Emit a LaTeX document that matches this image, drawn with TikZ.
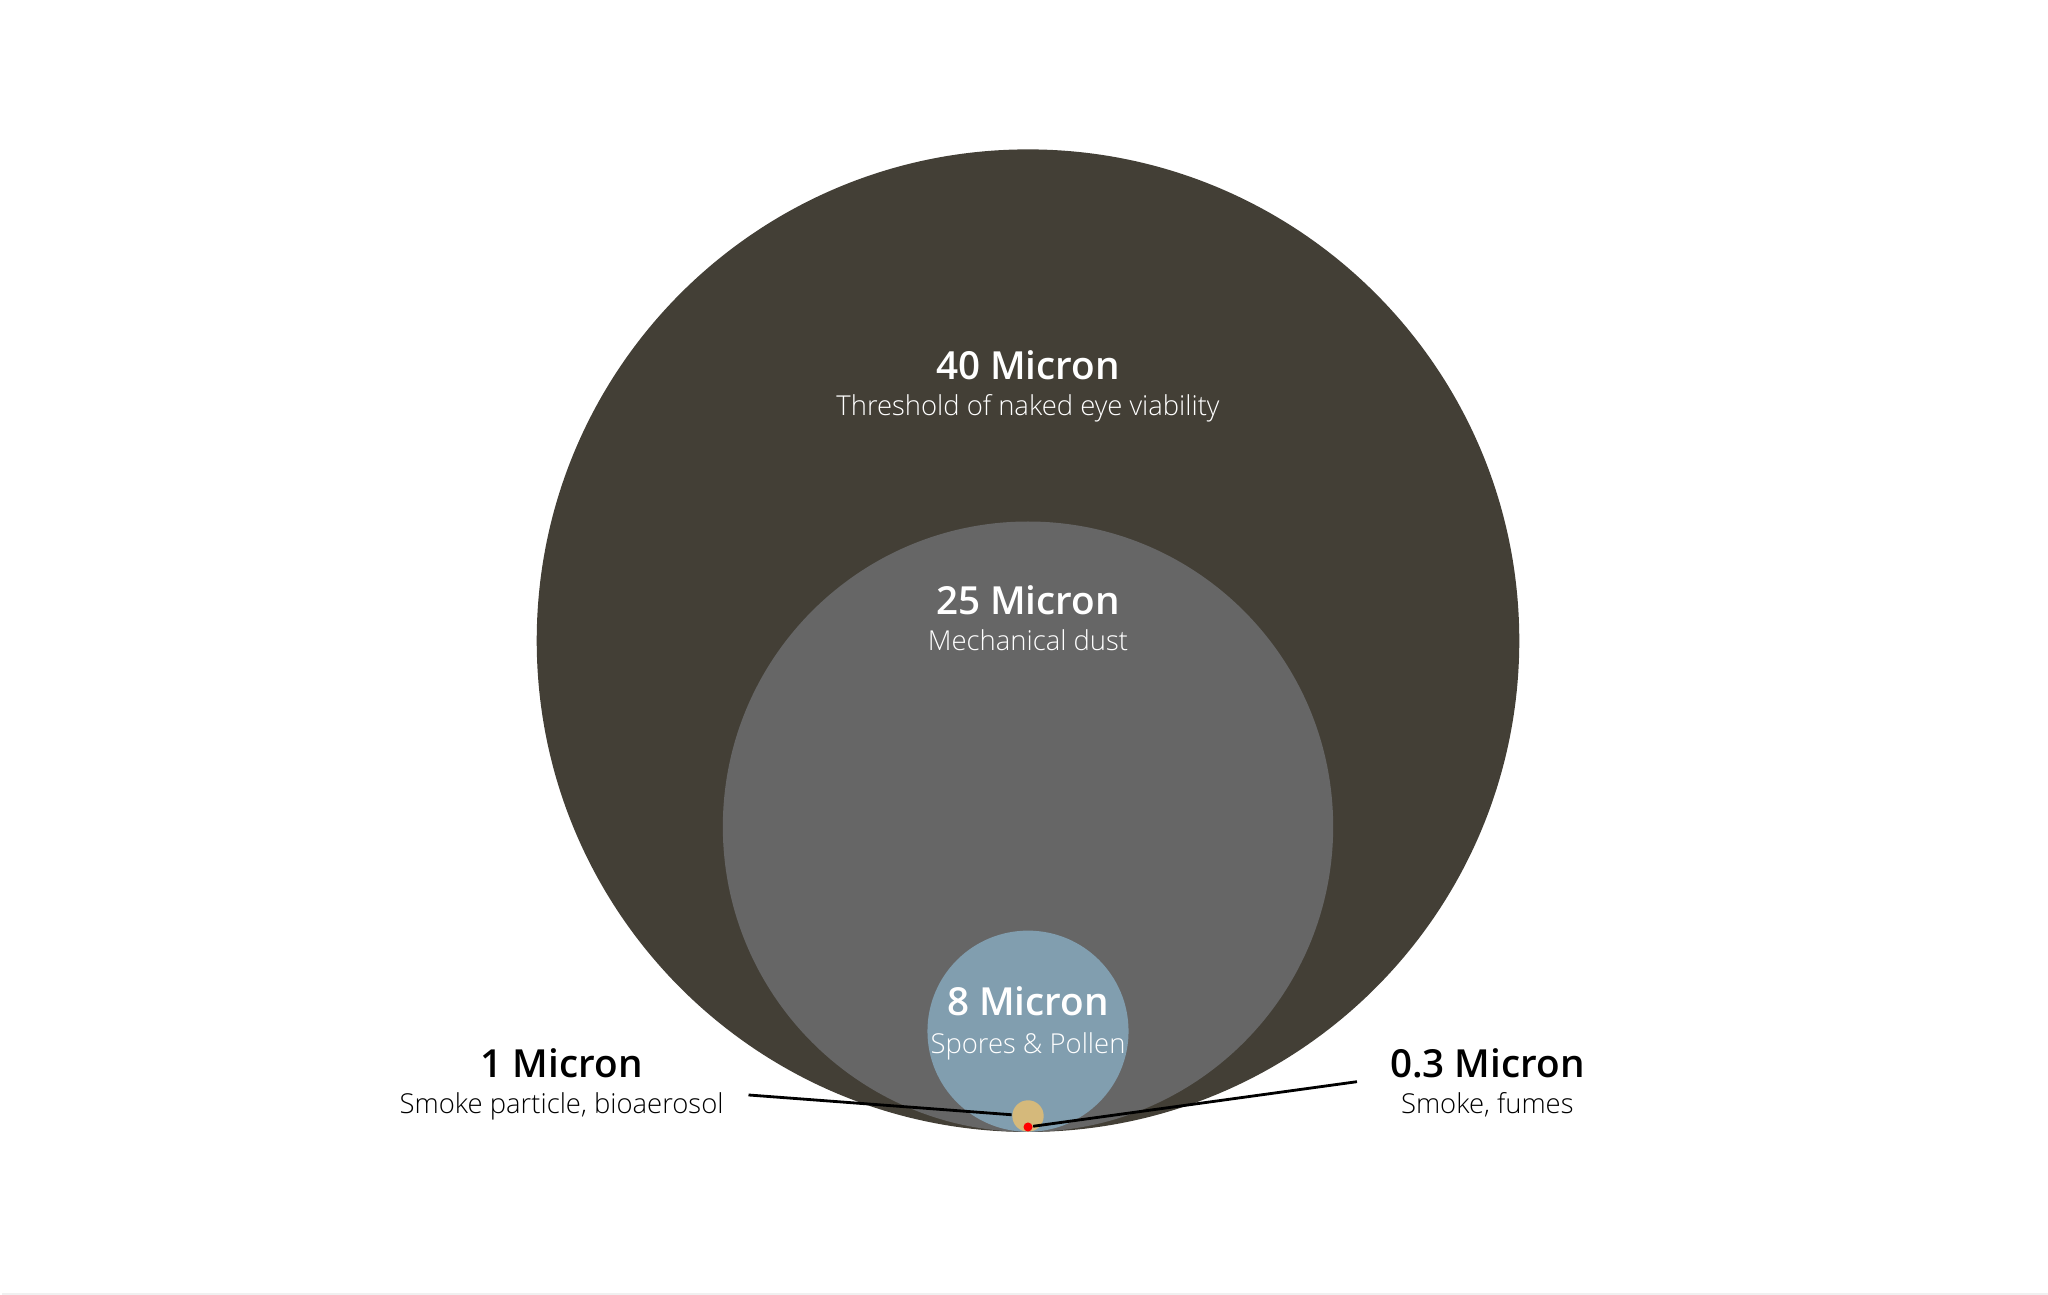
\documentclass[tikz,border=0pt]{standalone}
\usepackage{fontspec}
\setmainfont{Open Sans}
\newfontfamily\lightfont{Open Sans Light}
\newfontfamily\semifont{Open Sans Semibold}
\definecolor{micronforty}{HTML}{433F36}
\definecolor{microntwentyfive}{HTML}{666666}
\definecolor{microneight}{HTML}{819EAF}
\definecolor{micronone}{HTML}{D5B97B}
\begin{document}
\begin{tikzpicture}[x=0.01cm, y=0.01cm,
    particle/.style ={circle, inner sep=0pt, draw=none},
    heading/.style ={anchor=base, inner sep=0pt, font=\semifont\fontsize{11}{13}\selectfont},
    caption/.style ={anchor=base, inner sep=0pt, font=\lightfont\fontsize{7.8}{9}\selectfont},
    leader/.style ={line width=0.8pt, black}]
   \useasboundingbox (0,0) rectangle (2048,1295);
   \fill[black!6] (2,0) rectangle (2048,2);
   % circles, all touching at the bottom
   \node[particle, fill=micronforty, minimum size=9.82cm] (c40) at (1028,654.3) {};
   \node[particle, fill=microntwentyfive, minimum size=6.10cm] (c25) at (1028,468.3) {};
   \node[particle, fill=microneight, minimum size=2.01cm] (c8) at (1028,263.8) {};
   \node[particle, fill=micronone, minimum size=0.314cm] (c1) at (1028,179) {};
   % labels
   \node[heading, text=white] (h40) at (1028,915) {40 Micron};
   \node[caption, text=white] (s40) at (1028,879.3) {Threshold of naked eye viability};
   \node[heading, text=white] (h25) at (1028,680.7) {25 Micron};
   \node[caption, text=white] (s25) at (1028,644.3) {Mechanical dust};
   \node[heading, text=white] (h8) at (1028,279) {8 Micron};
   \node[caption, text=white] (s8) at (1028,241.7) {Spores \& Pollen};
   \node[heading] (h1) at (561.6,217.7) {1 Micron};
   \node[caption] (s1) at (561.6,181.7) {Smoke particle, bioaerosol};
   \node[heading] (h03) at (1487.3,217.7) {0.3 Micron};
   \node[caption] (s03) at (1487.3,181.3) {Smoke, fumes};
   % leader lines
   \coordinate (p1) at (748.5,200);
   \coordinate (p03) at (1357,213.3);
   \draw[leader] (p1) -- (c1);
   \node[particle, fill=red, minimum size=0.09cm] (c03) at (1028,168) {};
   \draw[leader] (p03) -- (c03);
 \end{tikzpicture}
\end{document}
